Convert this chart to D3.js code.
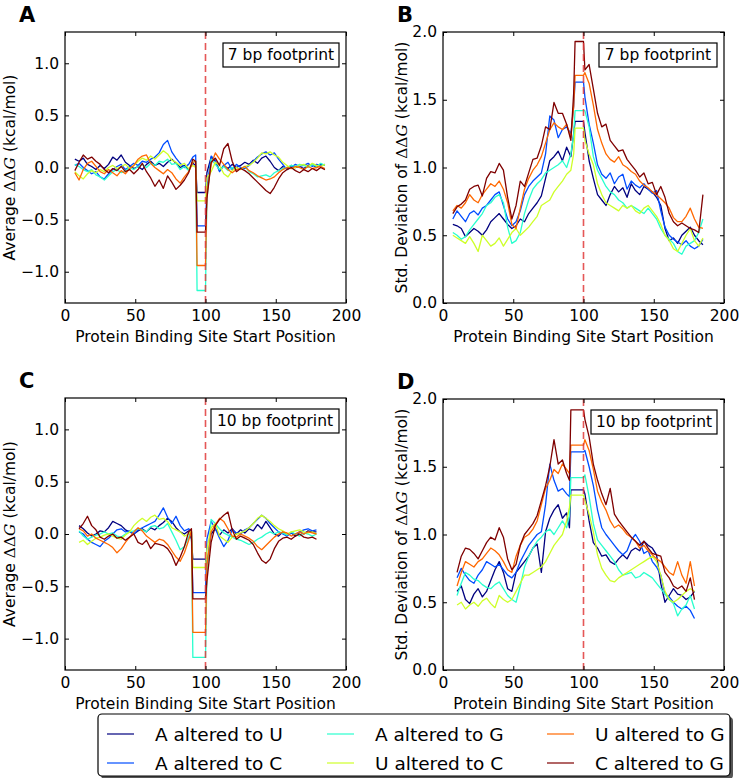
<!DOCTYPE html>
<html><head><meta charset="utf-8">
<script src="https://cdn.jsdelivr.net/npm/d3@7"></script>
<style>body{margin:0;background:#fff} svg{display:block;font-family:"DejaVu Sans",sans-serif}</style>
</head><body><svg id="fig" width="740" height="778"></svg>
<script>
// ---------- DATA ----------
const seriesNames = ["A altered to U", "A altered to C", "A altered to G", "U altered to C", "U altered to G", "C altered to G"];
const xTicks = [0, 50, 100, 150, 200];
const avgTicks = [-1.0, -0.5, 0.0, 0.5, 1.0];
const stdTicks = [0.0, 0.5, 1.0, 1.5, 2.0];
const footprintLabels = ["7 bp footprint", "10 bp footprint"];
const markerPosition = 100;

// binding-site start positions sampled (7 bp and 10 bp footprints)
const x7 = [...d3.range(7, 92, 3), 93, 94, 97, 100, ...d3.range(101, 186, 3)];
const x10 = [...d3.range(10, 89, 3), 90, 91, 94, 97, 100, ...d3.range(101, 180, 3)];

// Panel A: average ddG, 7 bp
const avg7AU = [0.08,0.06,0.09,0.03,0.01,-0.02,0.02,-0.01,0.03,0.10, 0.07,0.12,0.05,0.02,-0.01,0.01,-0.02,0.03,0.06,0.02, 0.04,0.01,0.05,0.08,0.04,0.00,0.02,-0.02,0.04,0.02, -0.24,-0.24,-0.24,-0.05,0.10,0.06,-0.03,0.02,-0.01,0.03, 0.00,0.02,0.05,0.03,0.07,0.04,0.09,0.11,0.06,0.00, -0.03,0.01,-0.01,0.02,0.00,0.01,-0.01,0.02,0.03,0.00, 0.03,0.02];
const avg7AC = [0.02,0.04,0.00,-0.03,-0.06,-0.04,-0.09,-0.11,-0.06,-0.02, 0.01,0.03,-0.02,0.01,0.04,0.02,0.06,0.05,0.08,0.10, 0.14,0.22,0.26,0.15,0.09,0.04,0.00,0.03,0.10,0.12, -0.56,-0.56,-0.56,-0.20,0.11,0.07,-0.04,0.02,0.05,-0.02, 0.03,0.00,-0.01,0.02,0.06,0.10,0.13,0.15,0.12,0.14, 0.08,0.03,-0.02,0.00,0.03,0.01,0.02,0.04,0.01,0.03, 0.02,0.03];
const avg7AG = [0.03,0.01,-0.02,-0.04,-0.02,-0.07,-0.09,-0.12,-0.08,-0.04, -0.02,-0.05,-0.03,0.00,-0.02,0.01,0.03,0.00,0.04,0.02, 0.06,0.05,0.08,0.03,0.04,-0.02,0.01,-0.03,0.05,0.06, -1.18,-1.18,-1.18,-0.30,0.08,0.03,-0.02,0.01,-0.03,0.00, -0.02,-0.01,0.01,-0.04,-0.06,-0.09,-0.08,-0.07,-0.09,-0.05, -0.03,-0.01,0.00,0.02,0.01,0.03,0.02,0.00,0.03,0.01, 0.04,0.02];
const avg7UC = [-0.04,-0.08,-0.11,-0.06,-0.03,-0.05,-0.02,-0.04,0.00,0.02, -0.01,0.01,0.03,-0.01,0.02,0.06,0.09,0.07,0.11,0.08, 0.12,0.16,0.13,0.07,0.05,0.02,0.04,-0.01,0.02,0.00, -0.32,-0.32,-0.32,-0.10,-0.04,0.05,0.02,-0.06,-0.09,-0.03, 0.00,-0.02,0.01,0.02,0.05,0.09,0.14,0.13,0.15,0.12, 0.10,0.05,0.02,-0.01,0.00,0.02,0.03,0.01,0.04,0.02, 0.01,0.03];
const avg7UG = [-0.05,-0.12,-0.02,0.04,0.06,0.01,-0.04,-0.06,-0.02,-0.05, -0.08,-0.03,-0.06,-0.01,0.02,0.08,0.11,0.12,0.04,0.00, -0.03,-0.06,-0.02,-0.05,-0.11,-0.15,-0.09,-0.04,0.05,0.06, -0.94,-0.94,-0.94,-0.25,0.03,0.14,0.08,0.03,-0.02,-0.05, -0.02,-0.01,0.01,-0.03,-0.05,-0.08,-0.10,-0.12,-0.11,-0.09, -0.05,-0.02,0.00,-0.01,0.01,0.00,-0.02,0.01,-0.01,0.00, 0.01,-0.01];
const avg7CG = [-0.03,0.05,0.12,0.08,0.10,0.06,0.03,-0.02,-0.05,-0.01, -0.03,0.01,-0.04,-0.02,-0.06,-0.02,0.04,-0.04,-0.10,-0.18, -0.12,-0.20,-0.08,-0.14,-0.21,-0.17,-0.12,-0.05,0.08,0.06, -0.62,-0.62,-0.62,-0.30,0.05,0.09,0.02,0.18,0.23,0.06, -0.04,-0.01,-0.03,-0.06,-0.10,-0.14,-0.18,-0.22,-0.25,-0.19, -0.11,-0.05,-0.02,0.00,-0.03,-0.05,-0.02,-0.04,-0.01,-0.03, 0.00,-0.02];

// Panel B: std of ddG, 7 bp
const std7AU = [0.58,0.57,0.55,0.49,0.52,0.55,0.53,0.50,0.54,0.60, 0.63,0.66,0.62,0.58,0.55,0.57,0.62,0.60,0.66,0.70, 0.74,0.79,0.92,1.05,1.08,1.12,1.05,1.15,1.08,1.25, 1.34,1.34,1.34,1.26,1.05,0.92,0.80,0.76,0.72,0.80, 0.86,0.82,0.85,0.78,0.88,0.83,0.80,0.86,0.84,0.82, 0.78,0.72,0.55,0.46,0.48,0.44,0.50,0.53,0.56,0.50, 0.46,0.43];
const std7AC = [0.62,0.68,0.64,0.60,0.66,0.68,0.65,0.70,0.72,0.76, 0.80,0.82,0.72,0.62,0.57,0.60,0.68,0.80,0.86,0.90, 0.93,0.96,1.10,1.38,1.35,1.22,1.28,1.30,1.25,1.45, 1.63,1.63,1.63,1.52,1.32,1.18,1.02,0.95,0.92,0.96, 0.88,0.93,0.95,0.84,0.90,0.87,0.85,0.88,0.84,0.81, 0.83,0.68,0.56,0.50,0.47,0.45,0.43,0.46,0.42,0.40, 0.42,0.47];
const std7AG = [0.52,0.50,0.47,0.49,0.54,0.58,0.62,0.66,0.72,0.74, 0.78,0.80,0.74,0.56,0.44,0.46,0.52,0.66,0.76,0.84, 0.88,0.91,0.96,0.98,1.00,1.02,1.05,1.00,1.10,1.24, 1.42,1.42,1.42,1.42,1.30,1.08,0.98,0.92,0.86,0.82, 0.80,0.76,0.74,0.70,0.72,0.70,0.68,0.66,0.70,0.66, 0.62,0.55,0.50,0.47,0.44,0.38,0.36,0.42,0.44,0.46, 0.52,0.62];
const std7UC = [0.50,0.48,0.46,0.44,0.49,0.44,0.38,0.50,0.46,0.42, 0.44,0.48,0.42,0.47,0.52,0.55,0.50,0.53,0.56,0.60, 0.64,0.72,0.74,0.76,0.82,0.86,0.90,0.95,0.98,1.10, 1.29,1.29,1.29,1.20,1.10,1.02,0.88,0.80,0.74,0.72, 0.70,0.68,0.72,0.70,0.72,0.68,0.66,0.70,0.72,0.68, 0.64,0.58,0.50,0.46,0.40,0.38,0.44,0.50,0.55,0.46, 0.42,0.48];
const std7UG = [0.68,0.72,0.70,0.74,0.80,0.76,0.74,0.80,0.84,0.88, 0.86,0.90,0.84,0.74,0.58,0.55,0.70,0.84,0.92,0.98, 1.02,1.08,1.18,1.28,1.33,1.30,1.28,1.32,1.22,1.45, 1.68,1.68,1.68,1.70,1.62,1.46,1.28,1.18,1.10,1.06, 1.04,1.08,1.02,1.00,0.97,0.95,0.90,0.87,0.85,0.82, 0.80,0.77,0.74,0.70,0.63,0.60,0.60,0.64,0.70,0.62, 0.56,0.55];
const std7CG = [0.66,0.71,0.73,0.76,0.84,0.86,0.87,0.79,0.92,0.97, 0.96,1.03,0.98,0.78,0.62,0.72,0.90,0.86,0.96,1.06, 1.07,1.16,1.30,1.28,1.48,1.40,1.40,1.32,1.20,1.55, 1.93,1.93,1.93,1.72,1.76,1.58,1.40,1.30,1.32,1.20, 1.16,1.12,1.13,1.06,1.02,0.98,0.93,0.96,0.88,0.89, 0.80,0.86,0.78,0.66,0.60,0.57,0.59,0.57,0.55,0.54, 0.52,0.80];

// Panel C: average ddG, 10 bp
const avg10AU = [0.08,0.05,0.01,-0.02,0.00,0.03,0.02,0.06,0.12,0.10, 0.08,0.04,0.02,0.00,0.03,0.05,0.02,0.06,0.04,0.08, 0.11,0.15,0.12,0.06,0.02,0.00,0.03,-0.05,-0.24,-0.24, -0.24,-0.24,-0.30,0.00,0.05,-0.01,0.04,0.01,0.05,0.00, 0.04,0.01,0.05,0.03,0.09,0.05,0.12,0.06,0.00,-0.02, 0.02,-0.01,0.01,-0.02,0.02,0.00,0.03,0.02,0.02];
const avg10AC = [0.02,0.00,-0.05,-0.08,-0.10,-0.12,-0.07,-0.04,0.00,0.04, 0.05,0.02,0.03,0.00,0.04,0.06,0.08,0.10,0.12,0.18, 0.25,0.16,0.10,0.17,0.08,0.03,0.05,0.02,-0.56,-0.56, -0.56,-0.56,-0.05,0.12,0.05,-0.04,-0.12,-0.06,0.04,0.01, 0.00,0.04,0.06,0.10,0.14,0.18,0.15,0.10,0.06,0.02, 0.00,-0.02,0.01,0.00,0.02,0.04,0.05,0.03,0.04];
const avg10AG = [0.03,-0.02,-0.05,-0.03,-0.01,0.00,0.02,0.00,0.01,-0.02, -0.03,0.00,0.02,0.03,0.05,0.04,0.02,0.07,0.08,0.05, 0.06,0.10,0.02,-0.06,-0.15,-0.12,-0.03,0.02,-1.18,-1.18, -1.18,-1.18,-0.40,0.14,0.10,0.05,0.01,-0.01,-0.03,-0.05, -0.06,-0.08,-0.10,-0.08,-0.05,-0.03,0.00,0.02,0.00,0.02, 0.01,-0.01,0.02,0.00,-0.02,0.01,0.00,-0.02,0.00];
const avg10UC = [-0.08,-0.06,-0.10,-0.07,-0.04,-0.03,-0.01,0.00,-0.02,-0.04, -0.05,-0.01,0.02,0.08,0.12,0.15,0.12,0.16,0.18,0.14, 0.15,0.12,0.06,0.04,0.02,-0.02,0.00,0.03,-0.32,-0.32, -0.32,-0.32,-0.15,0.06,0.10,-0.02,-0.05,-0.08,-0.03,0.00, 0.01,0.03,0.06,0.10,0.15,0.18,0.15,0.12,0.08,0.05, 0.03,0.00,0.02,0.03,0.04,0.02,0.01,0.02,0.00];
const avg10UG = [0.05,0.03,-0.02,0.00,-0.04,-0.06,-0.08,-0.10,-0.13,-0.18, -0.14,-0.08,-0.03,0.02,0.06,0.03,-0.02,-0.05,-0.08,-0.05, -0.06,-0.10,-0.16,-0.22,-0.26,-0.18,-0.06,0.03,-0.94,-0.94, -0.94,-0.94,-0.30,0.02,0.09,0.15,0.12,0.05,-0.02,-0.03, 0.00,-0.02,-0.04,-0.07,-0.12,-0.15,-0.11,-0.07,-0.03,0.00, 0.02,0.01,-0.02,0.00,0.02,0.00,0.02,0.01,0.00];
const avg10CG = [0.05,0.10,0.17,0.08,0.04,-0.03,-0.05,-0.02,0.00,-0.04, -0.03,-0.06,-0.03,0.00,-0.08,-0.10,-0.06,-0.14,-0.09,-0.10, -0.11,-0.14,-0.20,-0.30,-0.22,-0.12,0.02,0.05,-0.62,-0.62, -0.62,-0.62,-0.45,-0.08,0.08,0.14,0.18,0.21,0.04,-0.05, -0.02,-0.04,-0.06,-0.10,-0.18,-0.25,-0.28,-0.24,-0.14,-0.07, -0.04,-0.03,-0.05,-0.02,0.00,-0.03,-0.04,-0.03,-0.05];

// Panel D: std of ddG, 10 bp
const std10AU = [0.58,0.62,0.52,0.49,0.56,0.60,0.54,0.58,0.66,0.74, 0.80,0.72,0.60,0.58,0.72,0.76,0.80,0.84,0.90,0.93, 0.72,1.02,1.12,1.18,1.22,1.12,1.16,1.05,1.33,1.33, 1.33,1.33,1.30,1.10,0.94,0.90,0.84,0.85,0.80,0.78, 0.82,0.85,0.82,0.88,0.90,0.88,0.95,0.92,0.90,0.85, 0.64,0.50,0.55,0.60,0.56,0.55,0.52,0.54,0.58];
const std10AC = [0.68,0.75,0.70,0.66,0.64,0.70,0.74,0.80,0.78,0.76, 0.78,0.74,0.70,0.68,0.72,0.80,0.86,0.92,0.96,1.00, 1.02,1.22,1.52,1.40,1.32,1.34,1.30,1.28,1.61,1.61, 1.61,1.61,1.62,1.50,1.36,1.18,1.05,1.00,0.96,0.92, 0.88,0.85,0.88,0.96,1.00,0.95,0.86,0.88,0.80,0.76, 0.70,0.56,0.54,0.50,0.47,0.45,0.47,0.44,0.38];
const std10AG = [0.55,0.64,0.72,0.70,0.67,0.66,0.63,0.61,0.60,0.63, 0.65,0.60,0.55,0.52,0.50,0.62,0.76,0.84,0.90,0.95, 0.98,1.02,1.04,1.00,1.05,1.10,1.05,1.14,1.42,1.42, 1.42,1.42,1.44,1.28,1.08,0.96,0.92,0.88,0.84,0.80, 0.74,0.70,0.71,0.72,0.68,0.69,0.72,0.70,0.68,0.64, 0.60,0.56,0.52,0.49,0.40,0.45,0.48,0.55,0.45];
const std10UC = [0.48,0.50,0.45,0.48,0.50,0.47,0.51,0.53,0.49,0.46, 0.55,0.52,0.50,0.52,0.58,0.64,0.70,0.70,0.72,0.74, 0.76,0.80,0.86,0.92,0.96,1.00,1.10,1.20,1.29,1.29, 1.29,1.29,1.25,1.15,1.02,0.85,0.75,0.70,0.66,0.65, 0.68,0.70,0.72,0.74,0.76,0.78,0.80,0.82,0.84,0.80, 0.70,0.58,0.52,0.50,0.52,0.55,0.58,0.60,0.58];
const std10UG = [0.62,0.72,0.80,0.78,0.76,0.80,0.82,0.86,0.90,0.88, 0.85,0.80,0.74,0.72,0.84,0.92,0.98,1.00,1.04,1.10, 1.22,1.34,1.40,1.48,1.45,1.52,1.48,1.45,1.66,1.66, 1.66,1.66,1.70,1.62,1.48,1.32,1.24,1.18,1.10,1.05, 1.07,1.04,1.00,0.98,0.95,0.90,0.92,0.88,0.85,0.82, 0.80,0.76,0.72,0.70,0.80,0.70,0.64,0.80,0.62];
const std10CG = [0.72,0.84,0.90,0.89,0.86,0.82,0.88,0.94,0.98,0.96, 1.05,0.98,0.82,0.74,0.78,0.92,1.00,1.04,1.08,1.14, 1.25,1.36,1.50,1.70,1.52,1.55,1.45,1.40,1.92,1.92, 1.92,1.92,1.85,1.72,1.52,1.40,1.30,1.22,1.34,1.15, 1.10,1.06,1.02,0.98,0.95,0.92,0.95,0.90,0.86,0.85, 0.84,0.72,0.68,0.62,0.60,0.62,0.58,0.68,0.52];

// ---------- STYLE ----------
const colors = ["#00007f", "#004cff", "#29ffce", "#ceff29", "#ff6800", "#7f0000"]; // jet
const FONT = 15.5;

const svg = d3.select("#fig");

const panels = [
  {letter: "A", box: [65, 32, 346, 303], ydom: [-1.3, 1.3], yticks: avgTicks, xs: x7,
   series: [avg7AU, avg7AC, avg7AG, avg7UC, avg7UG, avg7CG], kind: "avg", foot: footprintLabels[0], footW: 116},
  {letter: "B", box: [443, 32, 724, 303], ydom: [0, 2], yticks: stdTicks, xs: x7,
   series: [std7AU, std7AC, std7AG, std7UC, std7UG, std7CG], kind: "std", foot: footprintLabels[0], footW: 118},
  {letter: "C", box: [65, 398, 346, 670], ydom: [-1.3, 1.3], yticks: avgTicks, xs: x10,
   series: [avg10AU, avg10AC, avg10AG, avg10UC, avg10UG, avg10CG], kind: "avg", foot: footprintLabels[1], footW: 128},
  {letter: "D", box: [443, 399, 724, 670], ydom: [0, 2], yticks: stdTicks, xs: x10,
   series: [std10AU, std10AC, std10AG, std10UC, std10UG, std10CG], kind: "std", foot: footprintLabels[1], footW: 126}
];

panels.forEach(p => {
  const [L, T, R, B] = p.box;
  const x = d3.scaleLinear().domain([0, 200]).range([L, R]);
  const y = d3.scaleLinear().domain(p.ydom).range([B, T]);
  const g = svg.append("g");

  // data lines
  const line = d3.line().x(d => x(d[0])).y(d => y(d[1]));
  p.series.forEach((vals, i) => {
    const pts = p.xs.map((xv, j) => [xv, vals[j]]).filter(d => d[1] !== undefined);
    g.append("path").datum(pts).attr("d", line)
      .attr("fill", "none").attr("stroke", colors[i]).attr("stroke-width", 1.3)
      .attr("stroke-linejoin", "round");
  });

  // dashed marker
  g.append("line").attr("x1", x(markerPosition)).attr("x2", x(markerPosition))
    .attr("y1", T).attr("y2", B)
    .attr("stroke", "#e03a3a").attr("stroke-opacity", 0.85)
    .attr("stroke-width", 1.6).attr("stroke-dasharray", "7,4");

  // axes
  const ax = (axis, tx, ty) => {
    const a = g.append("g").attr("transform", `translate(${tx},${ty})`).call(axis);
    a.select(".domain").remove();
    a.selectAll("text").attr("font-size", FONT).attr("font-family", "DejaVu Sans").attr("fill", "#000");
    a.selectAll("line").attr("stroke", "#000");
    return a;
  };
  ax(d3.axisBottom(x).tickValues(xTicks).tickSize(-4).tickPadding(7).tickFormat(d3.format("d")), 0, B);
  ax(d3.axisTop(x).tickValues(xTicks).tickSize(-4).tickFormat(""), 0, T);
  ax(d3.axisLeft(y).tickValues(p.yticks).tickSize(-4).tickPadding(6).tickFormat(d3.format(".1f")), L, 0);
  ax(d3.axisRight(y).tickValues(p.yticks).tickSize(-4).tickFormat(""), R, 0);

  // frame
  g.append("rect").attr("x", L).attr("y", T).attr("width", R - L).attr("height", B - T)
    .attr("fill", "none").attr("stroke", "#000").attr("stroke-width", 1.2);

  // x title
  g.append("text").attr("x", (L + R) / 2).attr("y", B + 39)
    .attr("text-anchor", "middle").attr("font-size", FONT)
    .text("Protein Binding Site Start Position");

  // y title
  const yt = g.append("text")
    .attr("transform", `translate(${p.kind === "avg" ? L - 55 : L - 41},${(T + B) / 2}) rotate(-90)`)
    .attr("text-anchor", "middle").attr("dominant-baseline", "central").attr("font-size", FONT);
  yt.append("tspan").text(p.kind === "avg" ? "Average " : "Std. Deviation of ");
  yt.append("tspan").attr("font-family", "DejaVu Serif").text("ΔΔ");
  yt.append("tspan").attr("font-family", "DejaVu Serif").attr("font-style", "italic").text("G");
  yt.append("tspan").text(" (kcal/mol)");

  // footprint box
  const fw = p.footW, fh = 24;
  const fx = R - 7 - fw, fy = T + 11;
  g.append("rect").attr("x", fx).attr("y", fy).attr("width", fw).attr("height", fh)
    .attr("fill", "#fff").attr("stroke", "#000").attr("stroke-width", 1.2);
  g.append("text").attr("x", fx + fw / 2).attr("y", fy + fh / 2)
    .attr("text-anchor", "middle").attr("dominant-baseline", "central")
    .attr("font-size", FONT).text(p.foot);

  // panel letter
  svg.append("text").attr("x", L - 46).attr("y", T - 10)
    .attr("font-size", 21).attr("font-weight", "bold").text(p.letter);
});

// ---------- LEGEND ----------
const lg = svg.append("g");
const LB = {x: 98, y: 714, w: 632, h: 62};
lg.append("rect").attr("x", LB.x + 3).attr("y", LB.y + 3).attr("width", LB.w).attr("height", LB.h)
  .attr("rx", 4).attr("fill", "#555");
lg.append("rect").attr("x", LB.x).attr("y", LB.y).attr("width", LB.w).attr("height", LB.h)
  .attr("rx", 4).attr("fill", "#fff").attr("stroke", "#000").attr("stroke-width", 1.2);
const colX = [107, 327, 547];
const rowY = [734, 763];
seriesNames.forEach((name, i) => {
  const c = Math.floor(i / 2), r = i % 2;
  lg.append("line").attr("x1", colX[c]).attr("x2", colX[c] + 27)
    .attr("y1", rowY[r]).attr("y2", rowY[r])
    .attr("stroke", colors[i]).attr("stroke-width", 2).attr("stroke-opacity", 0.6);
  lg.append("text").attr("x", colX[c] + 48).attr("y", rowY[r])
    .attr("dominant-baseline", "central").attr("font-size", 18.5).text(name);
});
</script></body></html>
